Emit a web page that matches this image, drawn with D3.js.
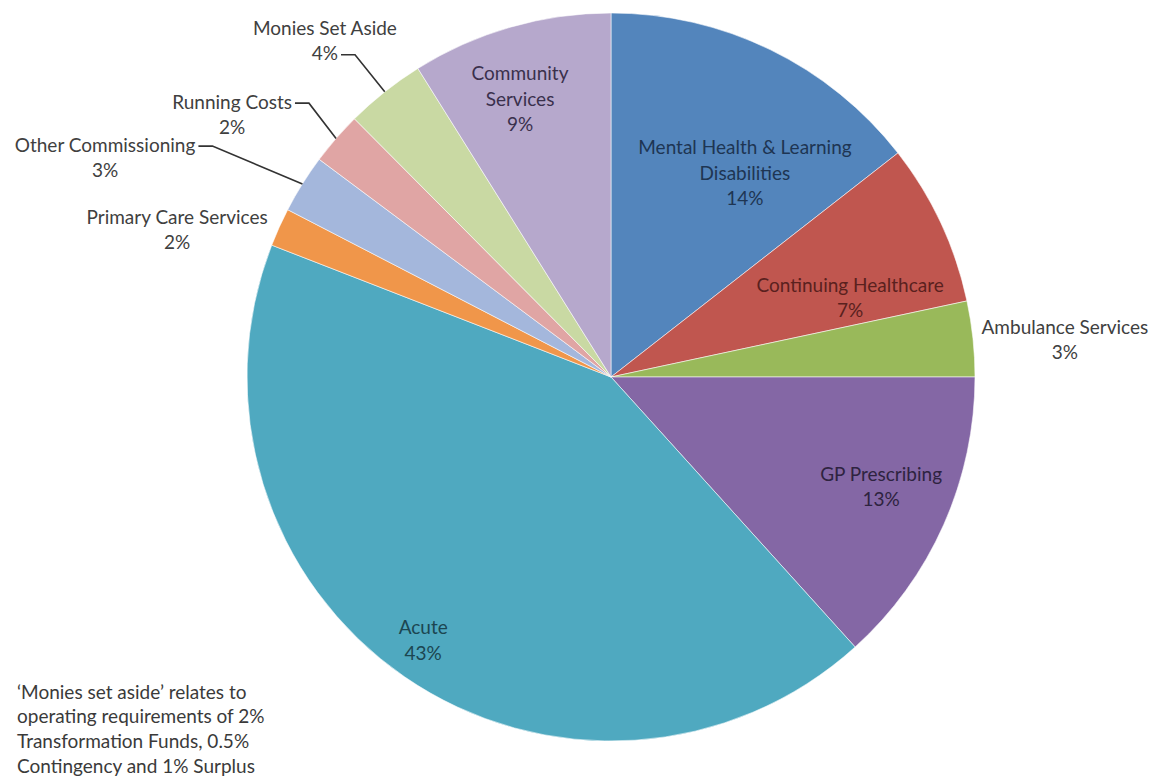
<!DOCTYPE html>
<html>
<head>
<meta charset="utf-8">
<script src="https://cdn.jsdelivr.net/npm/d3@7"></script>
<style>
  html, body { margin: 0; padding: 0; background: #ffffff; }
  svg { display: block; }
  text { font-family: Lato, "Open Sans", sans-serif; }
</style>
</head>
<body>
<svg id="chart" width="1153" height="776"></svg>
<script>
// Budget share by area of spend (per cent of total allocation)
const categories = [
  "Mental Health & Learning Disabilities",
  "Continuing Healthcare",
  "Ambulance Services",
  "GP Prescribing",
  "Acute",
  "Primary Care Services",
  "Other Commissioning",
  "Running Costs",
  "Monies Set Aside",
  "Community Services"
];
const shares = [14.45, 7.2, 3.35, 13.3, 42.6, 1.7, 2.6, 2.35, 3.55, 8.9];

// How each category name is broken over lines in its label
const labelLines = [
  ["Mental Health & Learning", "Disabilities"],
  ["Continuing Healthcare"],
  ["Ambulance Services"],
  ["GP Prescribing"],
  ["Acute"],
  ["Primary Care Services"],
  ["Other Commissioning"],
  ["Running Costs"],
  ["Monies Set Aside"],
  ["Community", "Services"]
];

const footnote = [
  "\u2018Monies set aside\u2019 relates to",
  "operating requirements of 2%",
  "Transformation Funds, 0.5%",
  "Contingency and 1% Surplus"
];

// ---- styling ----
const fills = ["#5385bc", "#c0564f", "#99b95a", "#8467a5", "#4fa9c0",
               "#f0964a", "#a4b7dc", "#e0a5a4", "#c9d9a3", "#b6a8cc"];
const textColours = ["#1e3553", "#5a211e", "#404040", "#2e2340", "#1c4651",
                     "#404040", "#404040", "#404040", "#404040", "#3a304c"];

// Label placement relative to the pie centre, in units of the radius,
// and which label line a leader line is attached to (-1 = none).
const labelLayout = [
  { x: 0.368, y: -0.560, leader: -1 },
  { x: 0.657, y: -0.217, leader: -1 },
  { x: 1.247, y: -0.102, leader: -1 },
  { x: 0.742, y: 0.302, leader: -1 },
  { x: -0.516, y: 0.723, leader: -1 },
  { x: -1.192, y: -0.404, leader: -1 },
  { x: -1.390, y: -0.602, leader: 0 },
  { x: -1.041, y: -0.720, leader: 0 },
  { x: -0.786, y: -0.923, leader: 1 },
  { x: -0.250, y: -0.764, leader: -1 }
];

const width = 1153, height = 776;
const cx = 611, cy = 377, R = 364;
const fontSize = 19, lineGap = 25.5;

const svg = d3.select("#chart");
const g = svg.append("g").attr("transform", `translate(${cx},${cy})`);

const pie = d3.pie().sort(null).value(d => d).startAngle(0).endAngle(2 * Math.PI);
const arcs = pie(shares);
const arc = d3.arc().innerRadius(0).outerRadius(R);

g.selectAll("path.slice")
  .data(arcs)
  .join("path")
  .attr("class", "slice")
  .attr("d", arc)
  .attr("fill", (d, i) => fills[i])
  .attr("stroke", "#ffffff")
  .attr("stroke-width", 0.8)
  .attr("stroke-opacity", 0.7);

// Data labels: category name plus rounded percentage
const labels = g.selectAll("g.label")
  .data(arcs)
  .join("g")
  .attr("class", "label")
  .attr("transform", (d, i) => `translate(${labelLayout[i].x * R},${labelLayout[i].y * R})`);

labels.each(function (d, i) {
  const lines = labelLines[i].concat([Math.round(shares[i]) + "%"]);
  const n = lines.length;
  const sel = d3.select(this);
  sel.selectAll("text")
    .data(lines)
    .join("text")
    .attr("x", 0)
    .attr("y", (t, k) => (k - (n - 1) / 2) * lineGap)
    .attr("dy", "0.35em")
    .attr("text-anchor", "middle")
    .attr("font-size", fontSize)
    .attr("fill", textColours[i])
    .text(t => t);
});

// Leader lines from the outside labels to the middle of their slice edge
labels.each(function (d, i) {
  const lay = labelLayout[i];
  if (lay.leader < 0) return;
  const textNode = d3.select(this).selectAll("text").nodes()[lay.leader];
  const bb = textNode.getBBox();
  const n = labelLines[i].length + 1;
  const lx = lay.x * R, ly = lay.y * R;
  const y0 = ly + (lay.leader - (n - 1) / 2) * lineGap + 1;
  const x0 = lx + bb.x + bb.width + 3;
  const mid = (d.startAngle + d.endAngle) / 2;
  const ex = Math.sin(mid) * R, ey = -Math.cos(mid) * R;
  g.append("polyline")
    .attr("points", [[x0, y0], [x0 + 14, y0], [ex, ey]].map(p => p.join(",")).join(" "))
    .attr("fill", "none")
    .attr("stroke", "#333333")
    .attr("stroke-width", 1.6);
});

// Explanatory note, bottom left
svg.append("g")
  .selectAll("text")
  .data(footnote)
  .join("text")
  .attr("x", 17)
  .attr("y", (t, k) => 692 + k * 24.7)
  .attr("dy", "0.35em")
  .attr("font-size", fontSize)
  .attr("fill", "#3a3a3a")
  .text(t => t);
</script>
</body>
</html>
